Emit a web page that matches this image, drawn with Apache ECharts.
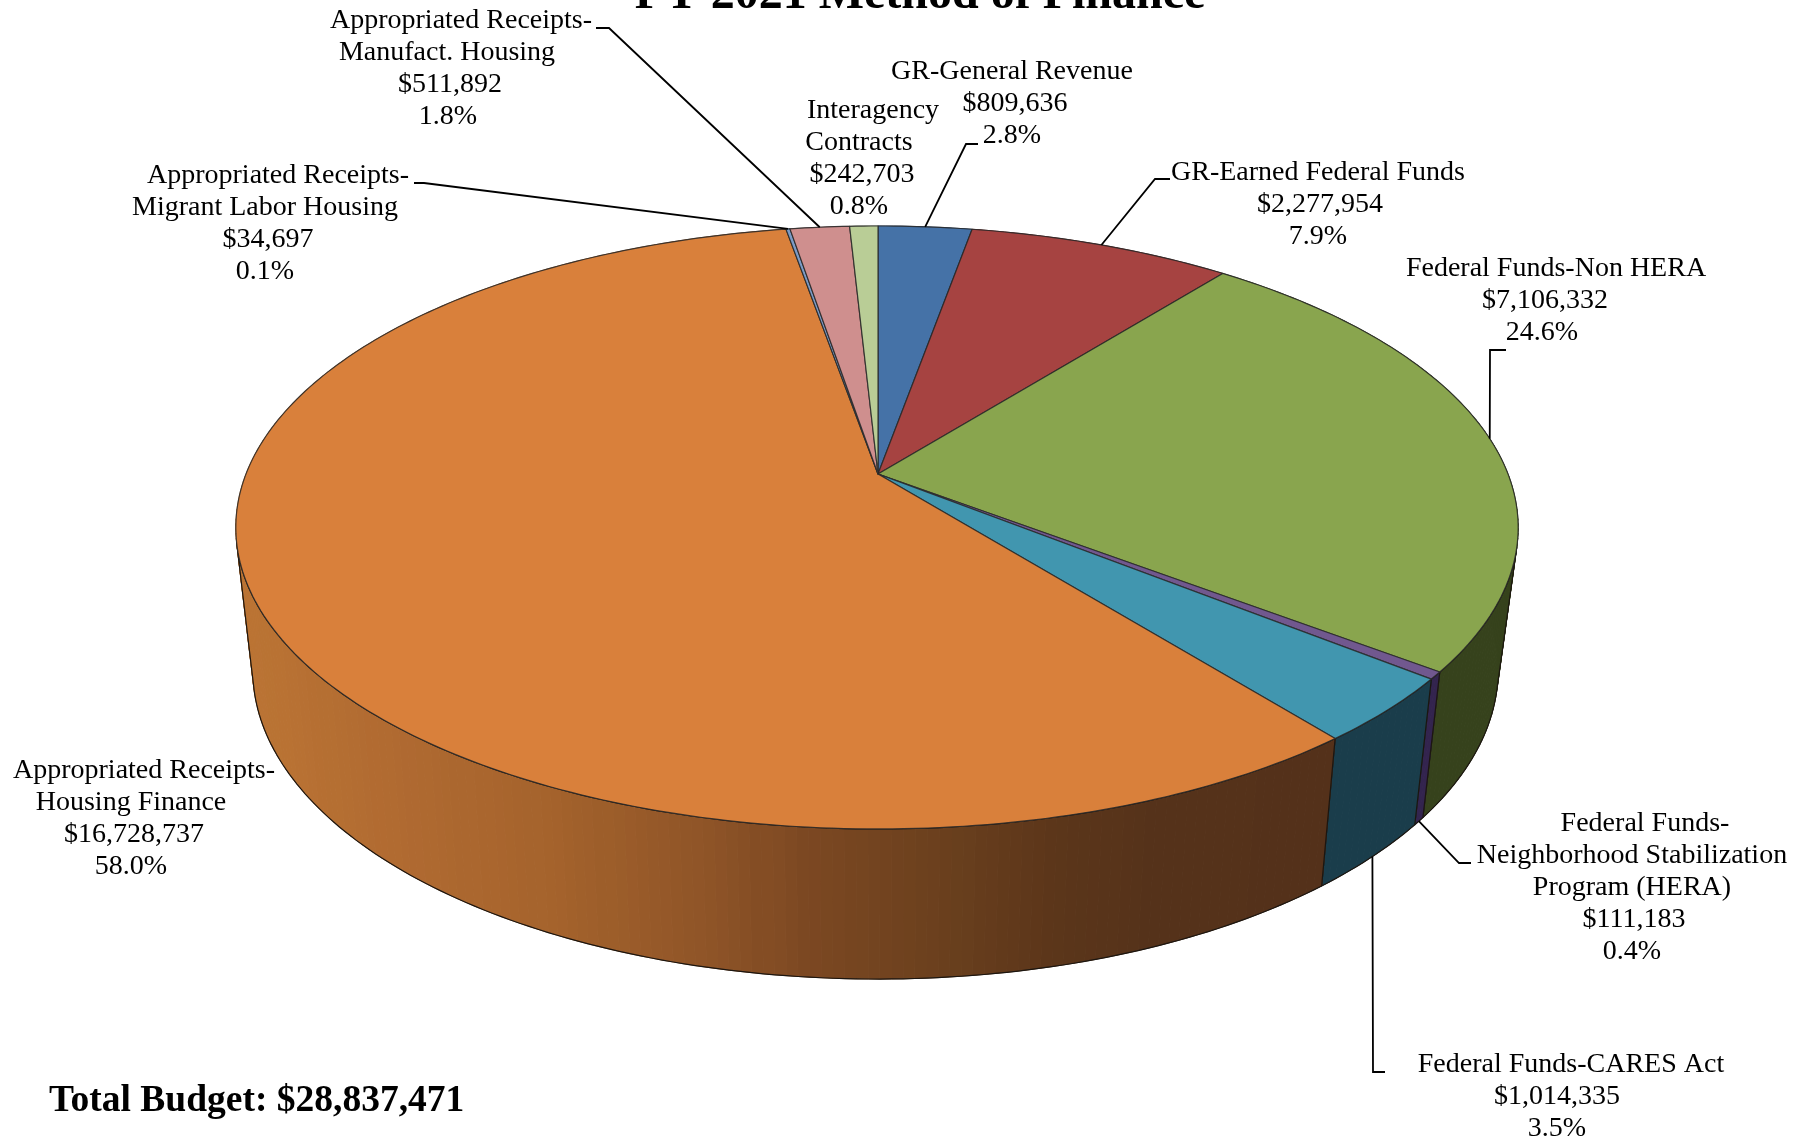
<!DOCTYPE html>
<html><head><meta charset="utf-8">
<style>html,body{margin:0;padding:0;background:#fff}#c{width:1811px;height:1143px}</style>
<script src="https://cdn.jsdelivr.net/npm/echarts@6/dist/echarts.min.js"></script>
</head><body><div id="c"></div>
<script>
// ---- data ----
var categories = ['GR-General Revenue','GR-Earned Federal Funds','Federal Funds-Non HERA','Federal Funds-Neighborhood Stabilization Program (HERA)','Federal Funds-CARES Act','Appropriated Receipts-Housing Finance','Appropriated Receipts-Migrant Labor Housing','Appropriated Receipts-Manufact. Housing','Interagency Contracts'];
var values = [809636,2277954,7106332,111183,1014335,16728737,34697,511892,242703];
var amountLabels = ['$809,636','$2,277,954','$7,106,332','$111,183','$1,014,335','$16,728,737','$34,697','$511,892','$242,703'];
var percentLabels = ['2.8%','7.9%','24.6%','0.4%','3.5%','58.0%','0.1%','1.8%','0.8%'];
var nameLines = [['GR-General Revenue'],['GR-Earned Federal Funds'],['Federal Funds-Non HERA'],['Federal Funds-','Neighborhood Stabilization','Program (HERA)'],['Federal Funds-CARES Act'],['Appropriated Receipts-','Housing Finance'],['Appropriated Receipts-','Migrant Labor Housing'],['Appropriated Receipts-','Manufact. Housing'],['Interagency','Contracts']];
var titleText = 'FY 2021 Method of Finance';
var totalText = 'Total Budget: $28,837,471';

// ---- styles and layout ----
var topColors = ['#4572A7','#A64341','#89A54E','#71588F','#4196AF','#D9803B','#7C9BC6','#CF8F8E','#B9CD96'];
var wallColors = ['#2A4464','#632826','#36421C','#33244E','#1A3D4B',null,'#4A5D76','#7C5655','#6F7B5A'];
// shading of the large wall, by screen x
var orangeShade = [[234,[188,117,52]],[400,[176,106,49]],[550,[165,99,44]],[720,[141,83,39]],[800,[124,72,34]],[950,[105,63,29]],[1050,[92,54,26]],[1150,[85,50,26]],[1340,[84,49,26]]];
var bandWidth = 12;
// rim projections: top rim, bottom rim
var RIMS = [
  {cx:878, cy:474, AL:632, AR:630, B:292, k:0.1774},
  {cx:878, cy:614.4, AL:615, AR:610, B:299, k:0.18}
];
var lineH = 32, SERIF = '"Liberation Serif","Times New Roman",serif';
// centre x of each text line, y of first line, per category
var labelLayout = [
 {xs:[1012,1015,1012], y:72},
 {xs:[1318,1320,1318], y:173},
 {xs:[1556,1545,1542], y:269},
 {xs:[1645,1632,1632,1634,1632], y:824},
 {xs:[1571,1557,1557], y:1065},
 {xs:[144,131,134,131], y:771},
 {xs:[278,265,268,265], y:176},
 {xs:[461,447,450,448], y:21},
 {xs:[873,859,862,859], y:111}
];
// leader elbows, starting from the computed slice anchor; z: 0 top rim, 1 bottom rim
var leaders = {
 0:{z:0, pts:[[966,144],[978,144]]},
 1:{z:0, pts:[[1155,179],[1170,179]]},
 2:{z:0, pts:[[1490,350],[1506,350]]},
 3:{z:1, pts:[[1459,863],[1471,863]]},
 4:{z:1, pts:[[1373,1072],[1385,1072]]},
 6:{z:0, pts:[[424,183],[414,183]]},
 7:{z:0, pts:[[609,28],[596,28]]}
};

// ---- geometry ----
var total = values.reduce(function(a,b){return a+b;},0);
var starts = [], cum = 0;
values.forEach(function(v){starts.push(cum); cum += v;});
function project(frac, z){
  var R = RIMS[z], t = frac*2*Math.PI, u = Math.sin(t), v = Math.cos(t);
  var w = 1 + R.k*v;
  return [R.cx + (u<0?R.AL:R.AR)*u/w, R.cy - R.B*v/w];
}
function arc(f0,f1,z){
  var n = Math.max(2, Math.ceil((f1-f0)*400)), out=[];
  for (var i=0;i<=n;i++) out.push(project(f0+(f1-f0)*i/n,z));
  return out;
}
function orangeAt(x){
  x = (Math.floor(x/bandWidth)+0.5)*bandWidth;
  var s = orangeShade, i = 0;
  if (x<=s[0][0]) return 'rgb('+s[0][1].join(',')+')';
  while (i<s.length-2 && x>s[i+1][0]) i++;
  var p = Math.min(1,(x-s[i][0])/(s[i+1][0]-s[i][0]));
  return 'rgb('+s[i][1].map(function(c,j){return Math.round(c+(s[i+1][1][j]-c)*p);}).join(',')+')';
}
function quadSign(a,b,c,d){
  var pts=[a,b,c,d],s=0;
  for(var i=0;i<4;i++){var p=pts[i],q=pts[(i+1)%4]; s+=p[0]*q[1]-q[0]*p[1];}
  return s>=0?1:-1;
}
var frontSign = quadSign(project(0.5,0),project(0.51,0),project(0.51,1),project(0.5,1));
var seriesData = values.map(function(v,i){return {name:categories[i], value:[i,v]};});

function wallItem(params, api){
  var i = api.value(0), f0 = starts[i]/total, f1 = (starts[i]+api.value(1))/total;
  var top = arc(f0,f1,0), bot = arc(f0,f1,1), kids = [], outlines = [], runStart = null;
  for (var j=0;j<top.length-1;j++){
    var c = wallColors[i] || orangeAt((top[j][0]+top[j+1][0]+bot[j][0]+bot[j+1][0])/4);
    kids.push({type:'polygon',shape:{points:[top[j],top[j+1],bot[j+1],bot[j]]},style:{fill:c,stroke:c,lineWidth:1}});
    var front = quadSign(top[j],top[j+1],bot[j+1],bot[j])===frontSign;
    if (front && runStart===null) runStart = j;
    if (!front && runStart!==null){ outlines.push([runStart,j]); runStart = null; }
  }
  if (runStart!==null) outlines.push([runStart,top.length-1]);
  // only the side of the wall that faces the viewer gets an outline
  outlines.forEach(function(r){
    var pts = top.slice(r[0],r[1]+1).concat(bot.slice(r[0],r[1]+1).reverse());
    kids.push({type:'polygon',shape:{points:pts},style:{fill:'none',stroke:'#1c1610',lineWidth:1.2,lineJoin:'round'}});
  });
  return {type:'group',children:kids};
}
function topItem(params, api){
  var i = api.value(0), f0 = starts[i]/total, f1 = (starts[i]+api.value(1))/total;
  var pts = [[RIMS[0].cx,RIMS[0].cy]].concat(arc(f0,f1,0));
  return {type:'polygon',shape:{points:pts},style:{fill:topColors[i],stroke:'rgba(40,40,40,0.85)',lineWidth:1.2,lineJoin:'round'}};
}
function labelItem(params, api){
  var i = api.value(0), kids = [], lay = labelLayout[i];
  var lines = nameLines[i].concat([amountLabels[i],percentLabels[i]]);
  lines.forEach(function(t,j){
    kids.push({type:'text',style:{text:t,x:lay.xs[j],y:lay.y+j*lineH,align:'center',verticalAlign:'middle',
      font:'28px '+SERIF,fill:'#000'}});
  });
  var L = leaders[i];
  if (L){
    var mid = (starts[i]+api.value(1)/2)/total;
    kids.push({type:'polyline',shape:{points:[project(mid,L.z)].concat(L.pts)},
      style:{fill:null,stroke:'#000',lineWidth:1.8}});
  }
  return {type:'group',children:kids};
}

var chart = echarts.init(document.getElementById('c'),null,{renderer:'canvas'});
chart.setOption({
  animation:false,
  backgroundColor:'#fff',
  tooltip:{show:false},
  series:[
    {type:'custom',name:'walls',coordinateSystem:'none',z:1,silent:true,renderItem:wallItem,data:seriesData},
    {type:'custom',name:'tops',coordinateSystem:'none',z:2,silent:true,renderItem:topItem,data:seriesData},
    {type:'custom',name:'labels',coordinateSystem:'none',z:3,silent:true,renderItem:labelItem,data:seriesData}
  ],
  graphic:[
    {type:'text',z:10,style:{text:titleText,x:920,y:-4,align:'center',verticalAlign:'middle',font:'bold 48px '+SERIF,fill:'#000'}},
    {type:'text',z:10,style:{text:totalText,x:49,y:1101,align:'left',verticalAlign:'middle',font:'bold 37.5px '+SERIF,fill:'#000'}}
  ]
});
</script></body></html>
